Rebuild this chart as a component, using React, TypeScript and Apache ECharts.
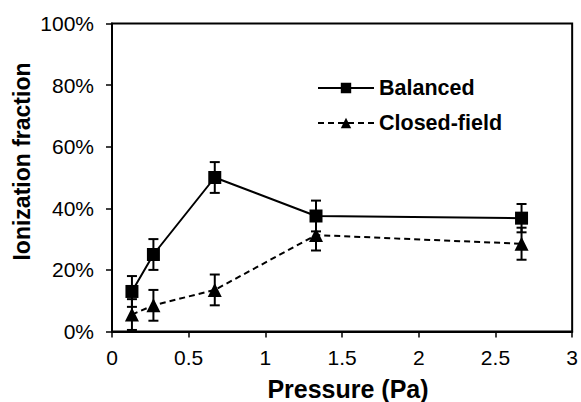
import React, { useEffect, useRef } from "react";
import * as echarts from "echarts";

const pressure = [0.13, 0.27, 0.67, 1.33, 2.67];
const balanced = [13, 25, 50, 37.5, 36.8];
const closedField = [5.5, 8.5, 13.5, 31.3, 28.5];
const balancedErr = [5, 5, 5, 5, 4.6];
const closedErr = [5, 5, 5, 5, 5.2];
const seriesNames = ["Balanced", "Closed-field"];
const xTitle = "Pressure (Pa)";
const yTitle = "Ionization fraction";

const FONT = "Liberation Sans, Arial, Helvetica, sans-serif";

function errData(vals: number[], errs: number[]) {
  return pressure.map((x, i) => [x, vals[i] - errs[i], vals[i] + errs[i]]);
}

function errRender(params: any, api: any) {
  const x = api.value(0);
  const lo = api.coord([x, api.value(1)]);
  const hi = api.coord([x, api.value(2)]);
  const w = 5;
  const style = { stroke: "#000", lineWidth: 2, fill: "none" };
  return {
    type: "group",
    children: [
      { type: "line", shape: { x1: hi[0], y1: hi[1], x2: lo[0], y2: lo[1] }, style },
      { type: "line", shape: { x1: hi[0] - w, y1: hi[1], x2: hi[0] + w, y2: hi[1] }, style },
      { type: "line", shape: { x1: lo[0] - w, y1: lo[1], x2: lo[0] + w, y2: lo[1] }, style },
    ],
  };
}

export default function App() {
  const ref = useRef<HTMLDivElement>(null);
  useEffect(() => {
    if (!ref.current) return;
    const chart = echarts.init(ref.current, undefined, { renderer: "svg" });
    chart.setOption({
      animation: false,
      backgroundColor: "#fff",
      grid: {
        left: 112,
        right: 8,
        top: 23.5,
        bottom: 70.5,
        show: true,
        borderColor: "#000",
        borderWidth: 2,
        backgroundColor: "transparent",
      },
      legend: {
        data: seriesNames,
        orient: "vertical",
        left: 312,
        top: 72,
        itemWidth: 56,
        itemHeight: 13,
        itemGap: 13,
        textStyle: { fontFamily: FONT, fontSize: 21.5, fontWeight: "bold", color: "#000" },
      },
      xAxis: {
        type: "value",
        min: 0,
        max: 3,
        interval: 0.5,
        splitLine: { show: false },
        axisLine: { show: true, lineStyle: { color: "#000", width: 2 } },
        axisTick: { show: true, length: 6, lineStyle: { color: "#000", width: 1.5 } },
        axisLabel: { fontFamily: FONT, fontSize: 21, color: "#000", margin: 15 },
      },
      yAxis: {
        type: "value",
        min: 0,
        max: 100,
        interval: 20,
        splitLine: { show: false },
        axisLine: { show: true, lineStyle: { color: "#000", width: 2 } },
        axisTick: { show: true, length: 6, lineStyle: { color: "#000", width: 1.5 } },
        axisLabel: { fontFamily: FONT, fontSize: 21, color: "#000", margin: 18, formatter: "{value}%" },
      },
      graphic: [
        {
          type: "text",
          x: 22,
          y: 161.5,
          rotation: Math.PI / 2,
          style: {
            text: yTitle,
            fontFamily: FONT,
            fontSize: 23,
            fontWeight: "bold",
            fill: "#000",
            align: "center",
            verticalAlign: "middle",
          },
        },
        {
          type: "text",
          x: 348,
          y: 389,
          style: {
            text: xTitle,
            fontFamily: FONT,
            fontSize: 25,
            fontWeight: "bold",
            fill: "#000",
            align: "center",
            verticalAlign: "middle",
          },
        },
      ],
      series: [
        {
          name: seriesNames[0],
          type: "line",
          data: pressure.map((x, i) => [x, balanced[i]]),
          symbol: "rect",
          symbolSize: 13,
          itemStyle: { color: "#000" },
          lineStyle: { color: "#000", width: 2, type: "solid" },
          z: 3,
        },
        {
          name: seriesNames[1],
          type: "line",
          data: pressure.map((x, i) => [x, closedField[i]]),
          symbol: "triangle",
          symbolSize: 14,
          itemStyle: { color: "#000" },
          lineStyle: { color: "#000", width: 2, type: [6, 4] },
          z: 3,
        },
        {
          type: "custom",
          name: "balancedErr",
          data: errData(balanced, balancedErr),
          renderItem: errRender,
          z: 4,
        },
        {
          type: "custom",
          name: "closedErr",
          data: errData(closedField, closedErr),
          renderItem: errRender,
          z: 4,
        },
      ],
    });
    return () => chart.dispose();
  }, []);
  return (
    <div
      ref={ref}
      style={{ position: "fixed", left: 0, top: 0, width: 581, height: 402 }}
    />
  );
}
